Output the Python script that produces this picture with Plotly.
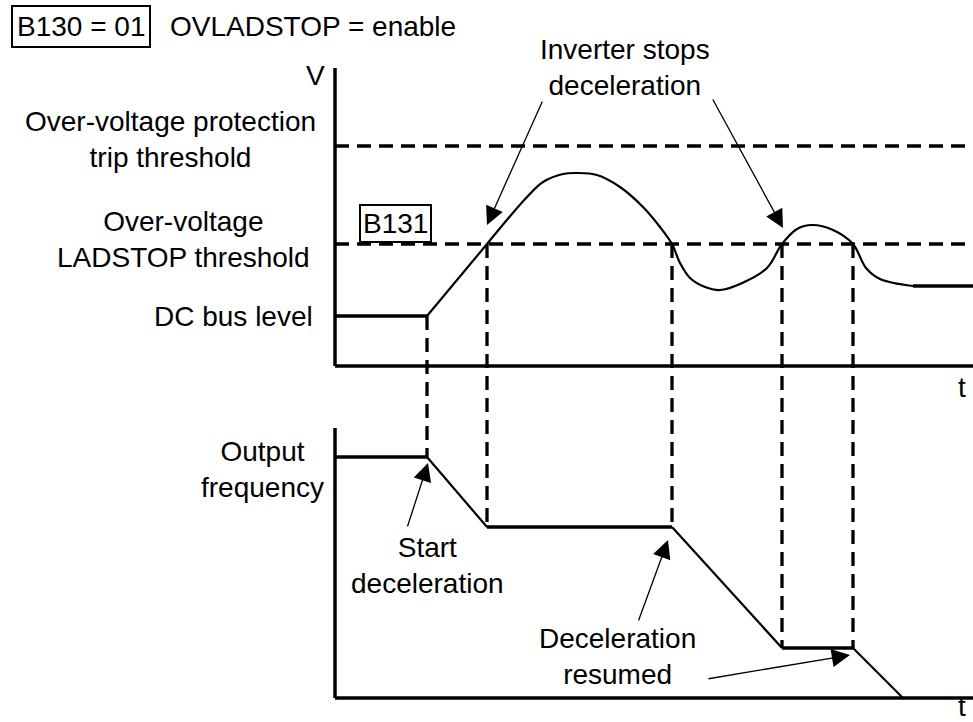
import plotly.graph_objects as go

# time marks (arbitrary units, 0 = axis origin)
t_end = 638
t_start_decel = 92
t_ladstop_1 = 152
t_resume_1 = 337
t_ladstop_2 = 447
t_resume_2 = 518
t_stopped = 568

# DC bus voltage levels
v_axis_top = 298
v_trip = 220
v_ladstop = 122
v_dc_bus = 50
v_final = 80

# voltage curve after the ramp
curve_t = [152, 192, 208, 228, 242, 262, 285, 308, 325, 337, 345, 355, 370, 385,
           405, 432, 447, 462, 477, 498, 518, 531, 545, 578]
curve_v = [122, 169, 184, 192, 193, 191, 179, 159, 139, 122, 103, 88, 79, 76,
           82, 98, 122, 137, 141, 136, 122, 98, 87, 80]

# output frequency
f_axis_top = 270
freq_t = [0, t_start_decel, t_ladstop_1, t_resume_1, t_ladstop_2, t_resume_2, t_stopped]
freq_f = [241, 241, 171, 171, 50, 50, 0]

# axis ranges (y2 shares the scale of y, shifted down)
Y1_TOP = 366
Y2_TOP = 698
H = 722


def f_to_v(f):
    return f - (Y2_TOP - Y1_TOP)


FONT = dict(family="Liberation Sans, Arial, sans-serif", size=28, color="black")
fig = go.Figure()


def line(x, y, width=3.3, dash=None, yaxis="y", shape="linear"):
    fig.add_trace(go.Scatter(x=x, y=y, mode="lines", yaxis=yaxis, hoverinfo="skip",
                             line=dict(color="black", width=width, dash=dash, shape=shape),
                             showlegend=False))


DASH = "14px,8px"

# thresholds
line([0, t_end], [v_trip, v_trip], width=3.3, dash=DASH)
line([0, t_end], [v_ladstop, v_ladstop], width=3.3, dash=DASH)

# vertical connectors between the two plots
line([t_start_decel] * 2, [v_dc_bus, f_to_v(freq_f[1])], dash=DASH)
for t, f in [(t_ladstop_1, freq_f[2]), (t_resume_1, freq_f[3]),
             (t_ladstop_2, freq_f[4]), (t_resume_2, freq_f[5])]:
    line([t, t], [v_ladstop, f_to_v(f)], dash=DASH)

# top axes
line([0, 0], [0, v_axis_top], width=3.5)
line([0, t_end], [0, 0], width=3.5)

# voltage
line([0, t_start_decel], [v_dc_bus, v_dc_bus], width=3.3)
line([t_start_decel, t_ladstop_1], [v_dc_bus, v_ladstop], width=2.2)
line(curve_t, curve_v, width=2.2, shape="spline")
line([curve_t[-1], t_end], [v_final, v_final], width=3.3)

# bottom axes
line([0, 0], [0, f_axis_top], width=3.5, yaxis="y2")
line([0, t_end], [0, 0], width=3.5, yaxis="y2")

# frequency
line(freq_t[:2], freq_f[:2], width=3.3, yaxis="y2")
line(freq_t[1:3], freq_f[1:3], width=2.2, yaxis="y2")
line(freq_t[2:4], freq_f[2:4], width=3.3, yaxis="y2")
line(freq_t[3:5], freq_f[3:5], width=2.2, yaxis="y2")
line(freq_t[4:6], freq_f[4:6], width=3.3, yaxis="y2")
line(freq_t[5:7], freq_f[5:7], width=2.2, yaxis="y2")


def label(text, x, y, yref="paper", xanchor="center", yanchor="middle", yshift=0, **kw):
    fig.add_annotation(text=text, x=x / 973, xref="paper", y=y, yref=yref,
                       xanchor=xanchor, yanchor=yanchor, showarrow=False,
                       align="center", font=FONT, yshift=yshift, **kw)


def py(p):
    return 1 - p / H


label("B130 = 01", 81, py(27), bordercolor="black", borderwidth=2, borderpad=4)
label("OVLADSTOP = enable", 168, py(27), xanchor="left")
label("V", 315, py(75))
label("Over-voltage protection<br>trip threshold", 318, v_trip, yref="y", xanchor="right", yshift=7)
label("Over-voltage<br>LADSTOP threshold", 312, v_ladstop, yref="y", xanchor="right", yshift=5)
label("DC bus level", 315, v_dc_bus, yref="y", xanchor="right")
label("B131", 395, py(224), bordercolor="black", borderwidth=2, borderpad=2)
label("Inverter stops<br>deceleration", 625, py(67))
label("t", 962, py(387))
label("Output<br>frequency", 262, freq_f[0], yref="y2", yshift=-12)
label("Start<br>deceleration", 427, py(565))
label("Deceleration<br>resumed", 617, py(656))
label("t", 962, 0, yanchor="bottom", yshift=-2)


def arrow(x, y, ax, ay, yref="y"):
    fig.add_annotation(x=x, y=y, xref="x", yref=yref, ax=ax, ay=ay, text="",
                       showarrow=True, arrowhead=2, arrowsize=2.8, arrowwidth=1.3,
                       arrowcolor="black", standoff=0)


arrow(t_ladstop_1, 141, 56, -125)
arrow(448, 138, -71, -130)
arrow(93, 235, -21, 65, yref="y2")
arrow(333, 158, -30, 82, yref="y2")
arrow(515, 43, -143, 24, yref="y2")

fig.update_layout(
    width=973, height=722,
    margin=dict(l=0, r=0, t=0, b=0),
    paper_bgcolor="white", plot_bgcolor="white",
    xaxis=dict(range=[-335, t_end], visible=False),
    yaxis=dict(range=[Y1_TOP - H, Y1_TOP], visible=False),
    yaxis2=dict(range=[Y2_TOP - H, Y2_TOP], visible=False, overlaying="y"),
    showlegend=False,
)

fig.write_html("out.html", config={"displayModeBar": False},
               post_script="document.body.style.margin='0';")
